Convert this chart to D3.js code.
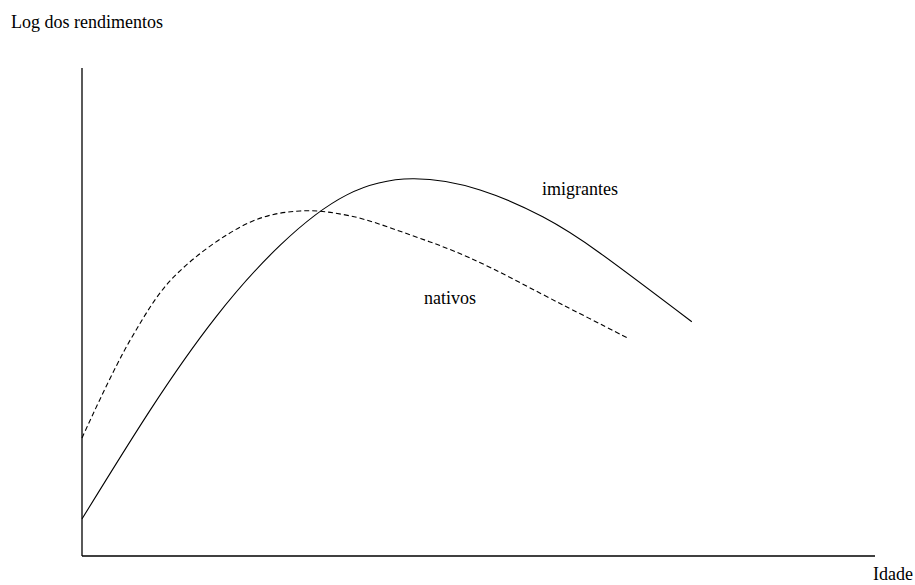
<!DOCTYPE html>
<html>
<head>
<meta charset="utf-8">
<script src="https://cdn.jsdelivr.net/npm/d3@7"></script>
<style>
  body { margin: 0; background: #fff; }
</style>
</head>
<body>
<div id="chart"></div>
<script>
// curve values (arbitrary units, 0-100 on both axes)
const imigrantesIdade = [0, 8.6, 16.8, 25.0, 33.4, 41.7, 50.2, 58.1, 65.3, 76.9];
const imigrantesLog   = [7.6, 29.9, 48.8, 63.7, 74.0, 77.3, 75.0, 69.5, 62.1, 48.0];

const nativosIdade = [0, 6.1, 11.7, 21.2, 27.5, 33.8, 41.4, 48.9, 60.7, 69.0];
const nativosLog   = [24.2, 44.3, 57.4, 68.4, 70.7, 69.7, 65.8, 61.1, 51.4, 44.5];

const width = 915;
const height = 585;
const margin = { top: 68, right: 40, bottom: 29, left: 82 };
const serif = "'Liberation Serif', 'Times New Roman', Times, 'DejaVu Serif', serif";

const svg = d3.select("#chart")
    .append("svg")
    .attr("width", width)
    .attr("height", height);

const xScale = d3.scaleLinear()
    .domain([0, 100])
    .range([margin.left, width - margin.right]);

const yScale = d3.scaleLinear()
    .domain([0, 100])
    .range([height - margin.bottom, margin.top]);

// axes: plain lines, no ticks
svg.append("line")
    .attr("x1", xScale(0)).attr("y1", yScale(0))
    .attr("x2", xScale(0)).attr("y2", yScale(100))
    .attr("stroke", "#000").attr("stroke-width", 1.3);

svg.append("line")
    .attr("x1", xScale(0)).attr("y1", yScale(0))
    .attr("x2", xScale(100)).attr("y2", yScale(0))
    .attr("stroke", "#000").attr("stroke-width", 1.3);

const solidLine = d3.line()
    .x(d => xScale(d[0]))
    .y(d => yScale(d[1]))
    .curve(d3.curveNatural);

// natural spline forces a straight start, which kinked the dashed curve
const dashedLine = d3.line()
    .x(d => xScale(d[0]))
    .y(d => yScale(d[1]))
    .curve(d3.curveCatmullRom.alpha(0.5));

const imigrantes = d3.zip(imigrantesIdade, imigrantesLog);
const nativos = d3.zip(nativosIdade, nativosLog);

svg.append("path")
    .datum(imigrantes)
    .attr("d", solidLine)
    .attr("fill", "none")
    .attr("stroke", "#000")
    .attr("stroke-width", 1.1);

svg.append("path")
    .datum(nativos)
    .attr("d", dashedLine)
    .attr("fill", "none")
    .attr("stroke", "#000")
    .attr("stroke-width", 1.1)
    .attr("stroke-dasharray", "5,3");

// labels
const label = (x, y, s) => svg.append("text")
    .attr("x", x).attr("y", y)
    .attr("font-family", serif)
    .attr("font-size", 18)
    .attr("fill", "#000")
    .text(s);

label(11, 28, "Log dos rendimentos");
label(873, 580, "Idade");
label(542, 195, "imigrantes");
label(424, 304, "nativos");
</script>
</body>
</html>
